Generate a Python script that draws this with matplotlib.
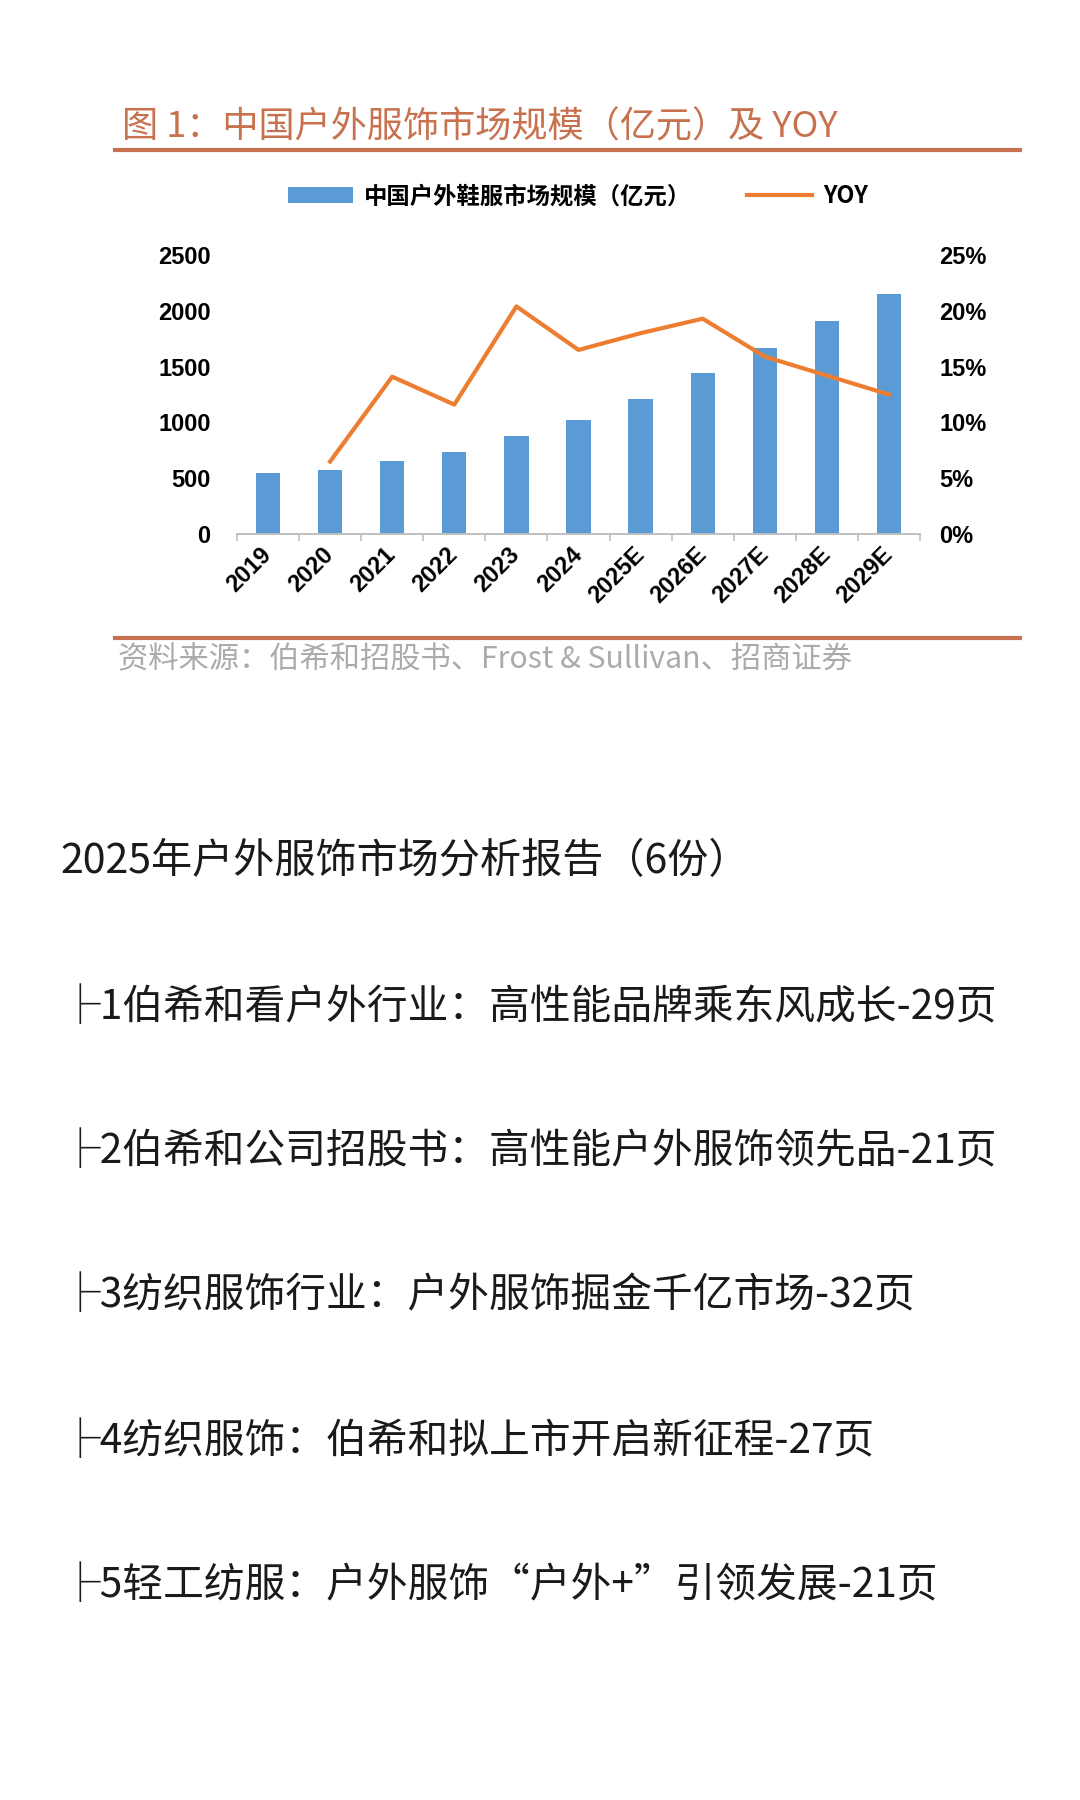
import numpy as np
import matplotlib
matplotlib.use("Agg")
from matplotlib import pyplot as plt
from matplotlib.lines import Line2D

plt.rcParams['font.family'] = ['Noto Sans CJK SC', 'DejaVu Sans']

# data
years = ['2019', '2020', '2021', '2022', '2023', '2024',
         '2025E', '2026E', '2027E', '2028E', '2029E']
market_size = [547, 573, 654, 735, 878, 1021, 1210, 1443, 1667, 1909, 2150]
yoy_years = years[1:]
yoy_pct = [6.5, 14.1, 11.6, 20.4, 16.5, 18.0, 19.3, 15.9, 14.2, 12.5]

left_ticks = [0, 500, 1000, 1500, 2000, 2500]
right_ticks = [0, 5, 10, 15, 20, 25]

title = '图 1：中国户外服饰市场规模（亿元）及 YOY'
bar_label = '中国户外鞋服市场规模（亿元）'
line_label = 'YOY'
source = '资料来源：伯希和招股书、Frost & Sullivan、招商证券'
report_lines = [
    '2025年户外服饰市场分析报告（6份）',
    '├1伯希和看户外行业：高性能品牌乘东风成长-29页',
    '├2伯希和公司招股书：高性能户外服饰领先品-21页',
    '├3纺织服饰行业：户外服饰掘金千亿市场-32页',
    '├4纺织服饰：伯希和拟上市开启新征程-27页',
    '├5轻工纺服：户外服饰“户外+”引领发展-21页',
]

BLUE = '#5B9BD5'
ORANGE = '#ED7D31'
RUST = '#C8714E'
GRID = '#BFBFBF'
num_font = {'family': 'Liberation Sans', 'weight': 'bold', 'size': 17}

fig = plt.figure(figsize=(10.8, 18), dpi=100)
fig.patch.set_facecolor('white')

# title + rules
fig.text(0.113, 0.9294, title, color=RUST, fontsize=26, ha='left', va='center')
fig.add_artist(Line2D([0.1065, 0.9444], [0.9167, 0.9167], color=RUST, lw=3))
fig.add_artist(Line2D([0.1065, 0.9444], [0.6456, 0.6456], color=RUST, lw=3))
fig.text(0.109, 0.6333, source, color='#ABABAB', fontsize=21.8, ha='left', va='center')

# chart
ax = fig.add_axes([0.2194, 0.7033, 0.6325, 0.155])
ax2 = ax.twinx()
x = np.arange(len(years))
bars = ax.bar(x, market_size, width=0.39, color=BLUE, zorder=2)
xl = [years.index(y) for y in yoy_years]
line, = ax2.plot(xl, np.array(yoy_pct) / 100, color=ORANGE, lw=3, zorder=3)

ax.set_xlim(-0.5, len(years) - 0.5)
ax.set_ylim(0, 2500)
ax2.set_ylim(0, 0.25)
ax.set_yticks(left_ticks)
ax.set_yticklabels([str(v) for v in left_ticks], fontdict=num_font)
ax2.set_yticks([v / 100 for v in right_ticks])
ax2.set_yticklabels(['%d%%' % v for v in right_ticks], fontdict=num_font)

ax.set_xticks(x)
ax.set_xticklabels(years, fontdict=num_font, rotation=45, ha='right',
                   va='center', rotation_mode='anchor')
ax.set_xticks(np.arange(-0.5, len(years), 1), minor=True)
ax.tick_params(axis='x', which='major', length=0, pad=12)
ax.tick_params(axis='x', which='minor', length=5, color=GRID, width=1.2)
ax.tick_params(axis='y', length=0, pad=19)
ax2.tick_params(axis='y', length=0, pad=14)

for a in (ax, ax2):
    for s in ('top', 'left', 'right', 'bottom'):
        a.spines[s].set_visible(False)
ax.spines['bottom'].set_visible(True)
ax.spines['bottom'].set_color(GRID)
ax.spines['bottom'].set_linewidth(1.4)

fig.legend([bars, line], [bar_label, line_label], loc='center',
           bbox_to_anchor=(0.535, 0.891), ncol=2, frameon=False,
           prop={'family': ['Noto Sans CJK SC', 'DejaVu Sans'], 'weight': 'bold', 'size': 16.8},
           handlelength=2.8, handletextpad=0.45, columnspacing=2.4)

# report list below the chart
ys = [0.5211, 0.4400, 0.3600, 0.2800, 0.1994, 0.1189]
xs = [0.0560] + [0.0548] * 5
sizes = [29.6] + [29.3] * 5
for txt, xx, yy, fs in zip(report_lines, xs, ys, sizes):
    fig.text(xx, yy, txt, fontsize=fs, color='#1A1A1A', ha='left', va='center',
             fontweight='light')

fig.savefig('out.png', dpi=100, facecolor='white')
